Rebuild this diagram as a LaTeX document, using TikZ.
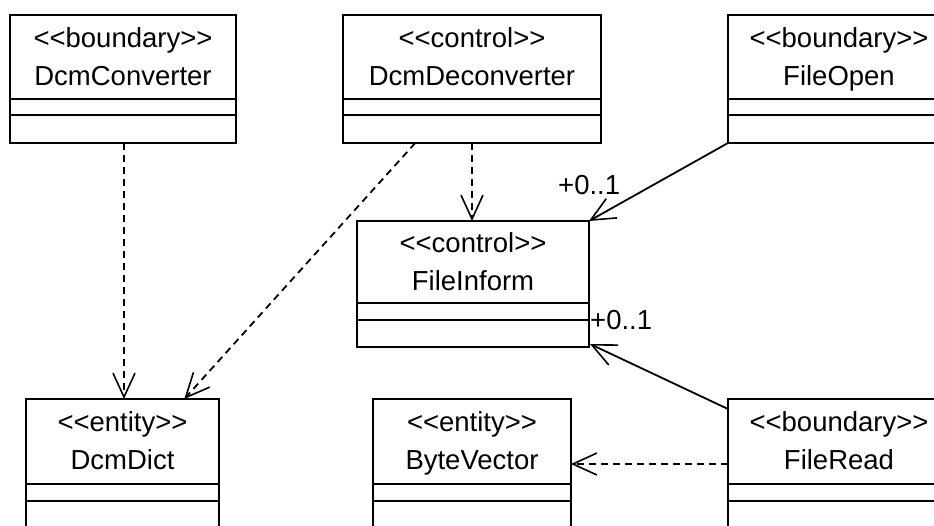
\documentclass[tikz,border=0pt]{standalone}
\usepackage{fontspec}
\setmainfont[Ligatures=TeXOff]{Liberation Sans}
\usetikzlibrary{arrows.meta,calc}

\tikzset{
	classbox/.style={draw, line width=2pt, rectangle, anchor=north west, inner sep=0pt, outer sep=0pt},
	umltext/.style={anchor=base, inner sep=0pt, font=\fontsize{27.5}{33}\selectfont},
	multtext/.style={anchor=base west, inner sep=0pt, font=\fontsize{27.5}{33}\selectfont},
	dep/.style={line width=1.8pt, dash pattern={on 7pt off 5pt}, -{Straight Barb[length=24pt,width=22pt,line width=1.6pt]}},
	nav/.style={line width=1.8pt, -{Straight Barb[length=24pt,width=22pt,line width=1.6pt]}}
}

\begin{document}
\begin{tikzpicture}[x=1pt,y=1pt,yscale=-1,xscale=1]
	\useasboundingbox (0,0) rectangle (934,525);
	
	%Class: DcmConverter
	\node (dcmconv) [classbox, minimum width=226pt, minimum height=128pt] at (10,15) {};
	\node (dcmconv-s) [umltext] at ($(dcmconv.north)+(0,32)$) {<<boundary>>};
	\node (dcmconv-n) [umltext] at ($(dcmconv.north)+(0,70)$) {DcmConverter};
	\draw [line width=2pt] ($(dcmconv.north west)+(0,84)$) -- ($(dcmconv.north east)+(0,84)$);
	\draw [line width=2pt] ($(dcmconv.north west)+(0,100)$) -- ($(dcmconv.north east)+(0,100)$);
	
	%Class: DcmDeconverter
	\node (deconv) [classbox, minimum width=258pt, minimum height=128pt] at (343,15) {};
	\node (deconv-s) [umltext] at ($(deconv.north)+(0,32)$) {<<control>>};
	\node (deconv-n) [umltext] at ($(deconv.north)+(0,70)$) {DcmDeconverter};
	\draw [line width=2pt] ($(deconv.north west)+(0,84)$) -- ($(deconv.north east)+(0,84)$);
	\draw [line width=2pt] ($(deconv.north west)+(0,100)$) -- ($(deconv.north east)+(0,100)$);
	
	%Class: FileOpen
	\node (fileopen) [classbox, minimum width=222pt, minimum height=128pt] at (728,15) {};
	\node (fileopen-s) [umltext] at ($(fileopen.north)+(0,32)$) {<<boundary>>};
	\node (fileopen-n) [umltext] at ($(fileopen.north)+(0,70)$) {FileOpen};
	\draw [line width=2pt] ($(fileopen.north west)+(0,84)$) -- ($(fileopen.north east)+(0,84)$);
	\draw [line width=2pt] ($(fileopen.north west)+(0,100)$) -- ($(fileopen.north east)+(0,100)$);
	
	%Class: FileInform
	\node (inform) [classbox, minimum width=232pt, minimum height=126pt] at (357,221) {};
	\node (inform-s) [umltext] at ($(inform.north)+(0,31)$) {<<control>>};
	\node (inform-n) [umltext] at ($(inform.north)+(0,69)$) {FileInform};
	\draw [line width=2pt] ($(inform.north west)+(0,82)$) -- ($(inform.north east)+(0,82)$);
	\draw [line width=2pt] ($(inform.north west)+(0,99)$) -- ($(inform.north east)+(0,99)$);
	
	%Class: DcmDict
	\node (dcmdict) [classbox, minimum width=193pt, minimum height=150pt] at (26,399) {};
	\node (dcmdict-s) [umltext] at ($(dcmdict.north)+(0,32)$) {<<entity>>};
	\node (dcmdict-n) [umltext] at ($(dcmdict.north)+(0,70)$) {DcmDict};
	\draw [line width=2pt] ($(dcmdict.north west)+(0,85)$) -- ($(dcmdict.north east)+(0,85)$);
	\draw [line width=2pt] ($(dcmdict.north west)+(0,102)$) -- ($(dcmdict.north east)+(0,102)$);
	
	%Class: ByteVector
	\node (bytevec) [classbox, minimum width=198pt, minimum height=150pt] at (373,399) {};
	\node (bytevec-s) [umltext] at ($(bytevec.north)+(0,32)$) {<<entity>>};
	\node (bytevec-n) [umltext] at ($(bytevec.north)+(0,70)$) {ByteVector};
	\draw [line width=2pt] ($(bytevec.north west)+(0,85)$) -- ($(bytevec.north east)+(0,85)$);
	\draw [line width=2pt] ($(bytevec.north west)+(0,102)$) -- ($(bytevec.north east)+(0,102)$);
	
	%Class: FileRead
	\node (fileread) [classbox, minimum width=222pt, minimum height=150pt] at (728,399) {};
	\node (fileread-s) [umltext] at ($(fileread.north)+(0,32)$) {<<boundary>>};
	\node (fileread-n) [umltext] at ($(fileread.north)+(0,70)$) {FileRead};
	\draw [line width=2pt] ($(fileread.north west)+(0,85)$) -- ($(fileread.north east)+(0,85)$);
	\draw [line width=2pt] ($(fileread.north west)+(0,102)$) -- ($(fileread.north east)+(0,102)$);
	
	%Connector ends
	\coordinate (conv-out) at ($(dcmconv.south)+(1,0)$);
	\coordinate (deconv-out) at ($(deconv.south west)!0.28!(deconv.south east)$);
	\coordinate (dict-in) at ($(dcmdict.north west)!0.82!(dcmdict.north east)$);
	\coordinate (read-out) at ($(fileread.north west)+(0,65)$);
	\coordinate (vec-in) at ($(bytevec.north east)+(0,65)$);
	
	%Dependencies
	\draw [dep] (conv-out) -- (conv-out |- dcmdict.north);
	\draw [dep] (deconv.south) -- (deconv.south |- inform.north);
	\draw [dep] (deconv-out) -- (dict-in);
	\draw [dep] (read-out) -- (vec-in);
	
	%Associations
	\draw [nav] (fileopen.south west) -- (inform.north east);
	\draw [nav] ($(fileread.north west)+(0,10)$) -- ($(inform.south east)+(1,-3)$);
	
	%Multiplicities
	\node (mult-a) [multtext] at ($(inform.north east)+(-31,-27)$) {+0..1};
	\node (mult-b) [multtext] at ($(inform.south east)+(1,-18)$) {+0..1};
	
\end{tikzpicture}
\end{document}
